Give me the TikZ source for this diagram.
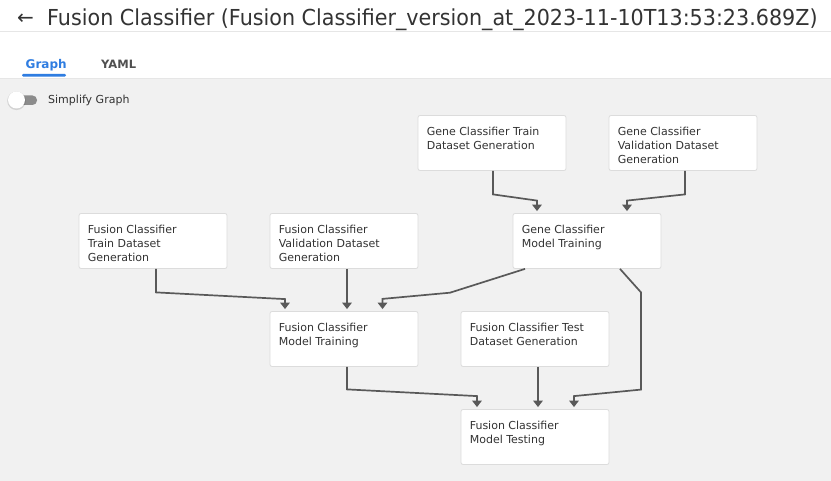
\documentclass[tikz,border=0pt]{standalone}
\usepackage{fontspec}
\setmainfont{DejaVu Sans}
\newfontfamily\titlefont[FakeStretch=0.94]{DejaVu Sans}
\usetikzlibrary{arrows.meta,calc}
\definecolor{bgc}{HTML}{F1F1F1}
\definecolor{sepc}{HTML}{E6E6E6}
\definecolor{textc}{HTML}{333333}
\definecolor{edgec}{HTML}{595959}
\definecolor{boxc}{HTML}{DCDCDC}
\definecolor{tabblue}{HTML}{2F7DE1}
\definecolor{tabgray}{HTML}{505050}
\definecolor{trackc}{HTML}{8C8C8C}
\tikzset{
  stagebox/.style={rectangle, draw=boxc, line width=0.8pt, fill=white, rounded corners=2pt,
    minimum width=148pt, minimum height=55pt, inner sep=0pt},
  stagetext/.style={anchor=north west, inner sep=0pt, align=left, text=textc,
    font=\fontsize{11}{14}\selectfont},
  flow/.style={draw=edgec, line width=1.7pt, line join=miter,
    -{Triangle[width=9.5pt,length=6.5pt]}},
}
\begin{document}
\begin{tikzpicture}[x=1pt,y=1pt]
\useasboundingbox (0,0) rectangle (831,481);
% backgrounds
\fill[white] (0,403) rectangle (831,481);
\fill[bgc] (0,0) rectangle (831,403);
\draw[sepc, line width=1pt] (0,449) -- (831,449);
\draw[sepc, line width=0.8pt] (0,403) -- (831,403);
% title
\node[anchor=base, inner sep=0pt, text=textc, font=\fontsize{20}{22}\selectfont] (back) at (25.5,456) {←};
\node[anchor=base west, inner sep=0pt, text=textc, font=\titlefont\fontsize{22}{26}\selectfont] (title) at (47,455)
  {Fusion Classifier (Fusion Classifier\_version\_at\_2023-11-10T13:53:23.689Z)};
% tabs
\node[anchor=base west, inner sep=0pt, text=tabblue, font=\bfseries\fontsize{12}{14}\selectfont] (tabgraph) at (25.5,412.7) {Graph};
\node[anchor=base west, inner sep=0pt, text=tabgray, font=\bfseries\fontsize{11.5}{14}\selectfont] (tabyaml) at (101,412.7) {YAML};
\fill[tabblue, rounded corners=1.2pt] (22,404.3) rectangle (66,407);
% toggle
\fill[trackc, rounded corners=4.5pt] (17,376) rectangle (37,385.5);
\fill[black, opacity=0.12] (16.5,380.2) circle (9.3pt);
\fill[white] (16.5,381) circle (8.5pt);
\node[anchor=base west, inner sep=0pt, text=textc, font=\fontsize{11}{13}\selectfont] (simplify) at (48,377) {Simplify Graph};
% stage boxes
\node[stagebox] (gct) at (492,338) {};
\node[stagebox] (gcv) at (683,338) {};
\node[stagebox] (gcm) at (587,240) {};
\node[stagebox] (fct) at (153,240) {};
\node[stagebox] (fcv) at (344,240) {};
\node[stagebox] (fcm) at (344,142) {};
\node[stagebox] (fcte) at (535,142) {};
\node[stagebox] (fcmt) at (535,44) {};
% stage texts
\node[stagetext] (gct-t) at ($(gct.north west)+(9,-12.1)$) {Gene Classifier Train\\Dataset Generation};
\node[stagetext] (gcv-t) at ($(gcv.north west)+(9,-12.1)$) {Gene Classifier\\Validation Dataset\\Generation};
\node[stagetext] (gcm-t) at ($(gcm.north west)+(9,-12.1)$) {Gene Classifier\\Model Training};
\node[stagetext] (fct-t) at ($(fct.north west)+(9,-12.1)$) {Fusion Classifier\\Train Dataset\\Generation};
\node[stagetext] (fcv-t) at ($(fcv.north west)+(9,-12.1)$) {Fusion Classifier\\Validation Dataset\\Generation};
\node[stagetext] (fcm-t) at ($(fcm.north west)+(9,-12.1)$) {Fusion Classifier\\Model Training};
\node[stagetext] (fcte-t) at ($(fcte.north west)+(9,-12.1)$) {Fusion Classifier Test\\Dataset Generation};
\node[stagetext] (fcmt-t) at ($(fcmt.north west)+(9,-12.1)$) {Fusion Classifier\\Model Testing};
% connectors
\draw[flow] ($(gct.south)+(1,0)$) -- ++(0,-23.5) -- ($(gcm.north)+(-50,12.5)$) -- ($(gcm.north)+(-50,2)$);
\draw[flow] ($(gcv.south)+(2,0)$) -- ++(0,-23.5) -- ($(gcm.north)+(40,12.5)$) -- ($(gcm.north)+(40,2)$);
\draw[flow] ($(fct.south)+(3,0)$) -- ++(0,-23.5) -- ($(fcm.north)+(-59,12)$) -- ($(fcm.north)+(-59,2)$);
\draw[flow] ($(fcv.south)+(3,0)$) -- ($(fcm.north)+(3,2)$);
\draw[flow] ($(gcm.south)+(-62,0)$) -- ($(gcm.south)+(-137,-23.8)$) -- ($(fcm.north)+(38.5,12.2)$) -- ($(fcm.north)+(38.5,2)$);
\draw[flow] ($(gcm.south)+(33,0)$) -- ($(gcm.south)+(54,-23.5)$) -- ($(fcmt.north)+(106,19.5)$) -- ($(fcmt.north)+(39,13)$) -- ($(fcmt.north)+(39,2)$);
\draw[flow] ($(fcm.south)+(3,0)$) -- ++(0,-22.5) -- ($(fcmt.north)+(-58,13)$) -- ($(fcmt.north)+(-58,2)$);
\draw[flow] ($(fcte.south)+(3,0)$) -- ($(fcmt.north)+(3,2)$);
\end{tikzpicture}
\end{document}
